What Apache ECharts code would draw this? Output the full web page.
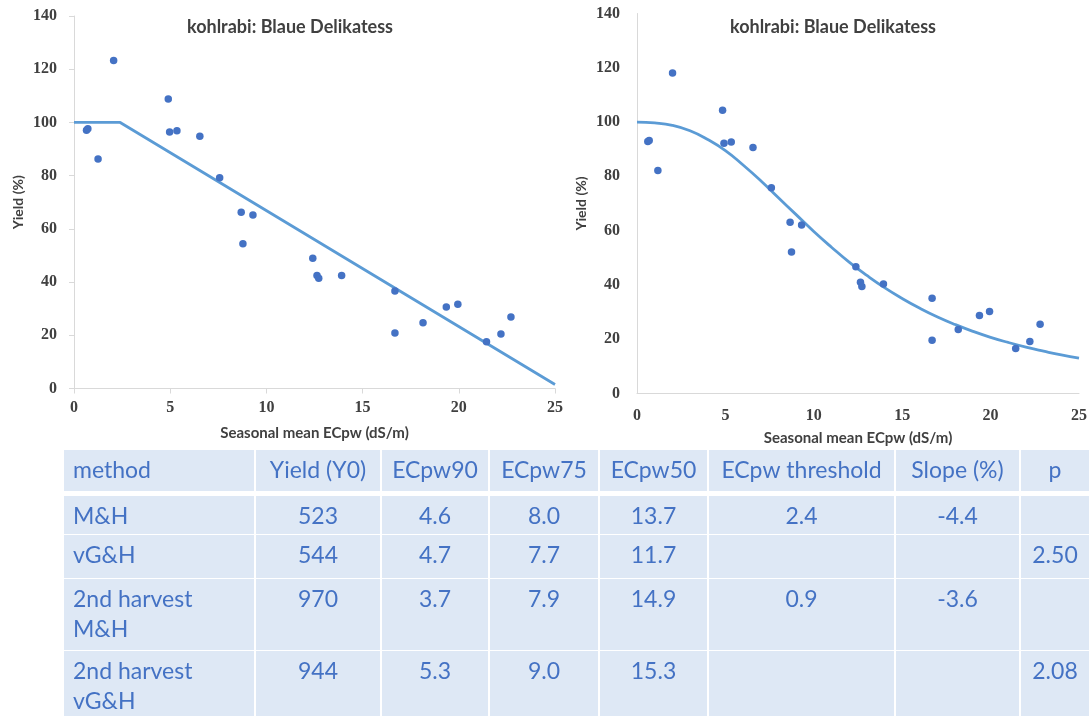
<!DOCTYPE html>
<html>
<head>
<meta charset="utf-8">
<script src="https://cdn.jsdelivr.net/npm/echarts@6/dist/echarts.min.js"></script>
<style>
html,body{margin:0;padding:0;background:#fff;}
#chart{width:1090px;height:716px;}
</style>
</head>
<body>
<div id="chart"></div>
<script>
// ---------- data ----------
const chartTitle = 'kohlrabi: Blaue Delikatess';
const xAxisName = 'Seasonal mean ECpw (dS/m)';
const yAxisName = 'Yield (%)';

// left chart: observed points (M&H)
const mhX = [0.65, 0.72, 1.25, 2.06, 4.90, 4.97, 5.35, 6.54, 7.57, 8.69, 8.78, 9.30, 12.41, 12.63, 12.72, 13.91, 16.68, 16.68, 18.14, 19.35, 19.95, 21.44, 22.19, 22.71];
const mhY = [97.1, 97.6, 86.3, 123.3, 108.8, 96.4, 96.9, 94.8, 79.2, 66.2, 54.4, 65.2, 49.0, 42.5, 41.4, 42.5, 36.6, 20.9, 24.7, 30.6, 31.7, 17.6, 20.5, 26.9];
// left chart: fitted piecewise line
const mhLineX = [0, 2.4, 25];
const mhLineY = [100, 100, 1.5];

// right chart: observed points (vG&H)
const vgX = [0.61, 0.69, 1.18, 2.01, 4.84, 4.92, 5.33, 6.56, 7.60, 8.66, 8.74, 9.31, 12.38, 12.64, 12.72, 13.94, 16.69, 16.69, 18.17, 19.37, 19.94, 21.42, 22.22, 22.80];
const vgY = [92.8, 93.2, 82.2, 118.1, 104.4, 92.2, 92.7, 90.6, 75.8, 63.1, 52.1, 62.1, 46.7, 41.0, 39.4, 40.3, 35.1, 19.6, 23.6, 28.7, 30.2, 16.6, 19.2, 25.5];
// right chart: fitted curve
const vgCurveX = [0, 1, 2, 3, 4, 5, 6, 7, 8, 9, 10, 11, 12, 13, 14, 15, 16, 17, 18, 19, 20, 21, 22, 23, 24, 25];
const vgCurveY = [100, 99.7, 98.8, 96.8, 93.6, 89.5, 84.2, 78.4, 72.1, 65.9, 59.7, 53.9, 48.4, 43.5, 39.0, 35.0, 31.4, 28.2, 25.4, 22.9, 20.7, 18.8, 17.1, 15.6, 14.2, 13.0];

const xTicks = [0, 5, 10, 15, 20, 25];
const yTicks = [0, 20, 40, 60, 80, 100, 120, 140];

// table
const tableHeader = ['method', 'Yield (Y0)', 'ECpw90', 'ECpw75', 'ECpw50', 'ECpw threshold', 'Slope (%)', 'p'];
const colMethod = ['M&H', 'vG&H', '2nd harvest\nM&H', '2nd harvest\nvG&H'];
const colY0 = ['523', '544', '970', '944'];
const colEC90 = ['4.6', '4.7', '3.7', '5.3'];
const colEC75 = ['8.0', '7.7', '7.9', '9.0'];
const colEC50 = ['13.7', '11.7', '14.9', '15.3'];
const colThreshold = ['2.4', '', '0.9', ''];
const colSlope = ['-4.4', '', '-3.6', ''];
const colP = ['', '2.50', '', '2.08'];

// ---------- layout / style ----------
const zip = (a, b) => a.map((v, i) => [v, b[i]]);
const tickColor = '#404040';
const axisGray = '#D9D9D9';
const pointColor = '#4472C4';
const lineColor = '#5B9BD5';
const serifFont = '"Liberation Serif", serif';
const sansFont = 'Lato, "Open Sans", sans-serif';

const grids = [
  {left: 74, top: 16, width: 481, height: 372.5},
  {left: 637, top: 13.5, width: 442, height: 380}
];

function xAxisCfg(idx, withTicks, margin) {
  return {
    type: 'value', gridIndex: idx, min: xTicks[0], max: xTicks[xTicks.length - 1], interval: 5,
    name: xAxisName, nameLocation: 'middle', nameGap: 37,
    nameTextStyle: {color: tickColor, fontFamily: sansFont, fontWeight: 'bold', fontSize: 15},
    axisLine: {show: true, lineStyle: {color: axisGray, width: 1}},
    axisTick: {show: withTicks, length: 5, lineStyle: {color: axisGray}},
    splitLine: {show: false},
    axisLabel: {color: tickColor, fontFamily: serifFont, fontWeight: 'bold', fontSize: 16, margin: margin}
  };
}
function yAxisCfg(idx, withTicks) {
  return {
    type: 'value', gridIndex: idx, min: yTicks[0], max: yTicks[yTicks.length - 1], interval: 20,
    name: yAxisName, nameLocation: 'middle', nameGap: 49, nameRotate: 90,
    nameTextStyle: {color: tickColor, fontFamily: sansFont, fontWeight: 'bold', fontSize: 14},
    axisLine: {show: true, lineStyle: {color: axisGray, width: 1}},
    axisTick: {show: withTicks, length: 5, lineStyle: {color: axisGray}},
    splitLine: {show: false},
    axisLabel: {color: tickColor, fontFamily: serifFont, fontWeight: 'bold', fontSize: 16, margin: 17}
  };
}

// table geometry
const colEdges = [63, 255, 381, 489, 599, 708, 895, 1020, 1090];
const headerBox = [450, 492];
const rowEdges = [496, 535, 579, 651, 716];
const cellFill = '#DEE8F5';
const tableText = '#4472C4';
const tableFont = 'Lato, "Open Sans", sans-serif';
const tableFontSize = 23;

const graphics = [];
// titles
[[290, 27], [833, 27]].forEach(p => {
  graphics.push({type: 'text', x: p[0], y: p[1], style: {
    text: chartTitle, fill: tickColor, font: 'bold 18px ' + sansFont,
    textAlign: 'center', textVerticalAlign: 'middle'}});
});

const columns = [colMethod, colY0, colEC90, colEC75, colEC50, colThreshold, colSlope, colP];
function addRow(top, bottom, texts) {
  for (let c = 0; c < colEdges.length - 1; c++) {
    const x0 = colEdges[c], x1 = colEdges[c + 1];
    graphics.push({type: 'rect', shape: {x: x0 + 1, y: top, width: x1 - x0 - 2, height: bottom - top - 1},
      style: {fill: cellFill}, silent: true});
    const t = texts[c];
    if (t) {
      const left = c === 0;
      graphics.push({type: 'text', x: left ? x0 + 10 : (x0 + x1) / 2, y: top + 6, style: {
        text: t, fill: tableText, font: tableFontSize + 'px ' + tableFont,
        textAlign: left ? 'left' : 'center', textVerticalAlign: 'top', lineHeight: 30}});
    }
  }
}
addRow(headerBox[0], headerBox[1], tableHeader);
for (let r = 0; r < colMethod.length; r++) {
  addRow(rowEdges[r], rowEdges[r + 1] + (r === colMethod.length - 1 ? 1 : 0), columns.map(col => col[r]));
}

const option = {
  animation: false,
  backgroundColor: '#ffffff',
  grid: grids,
  xAxis: [xAxisCfg(0, true, 11), xAxisCfg(1, false, 14)],
  yAxis: [yAxisCfg(0, true), yAxisCfg(1, false)],
  series: [
    {type: 'line', xAxisIndex: 0, yAxisIndex: 0, data: zip(mhLineX, mhLineY), showSymbol: false,
      lineStyle: {color: lineColor, width: 2.8}, z: 2},
    {type: 'scatter', xAxisIndex: 0, yAxisIndex: 0, data: zip(mhX, mhY), symbolSize: 7.5,
      itemStyle: {color: pointColor, opacity: 1}, z: 3},
    {type: 'line', xAxisIndex: 1, yAxisIndex: 1, data: zip(vgCurveX, vgCurveY), showSymbol: false, smooth: true,
      lineStyle: {color: lineColor, width: 2.8}, z: 2},
    {type: 'scatter', xAxisIndex: 1, yAxisIndex: 1, data: zip(vgX, vgY), symbolSize: 7.5,
      itemStyle: {color: pointColor, opacity: 1}, z: 3}
  ],
  graphic: graphics
};

const chart = echarts.init(document.getElementById('chart'), null, {renderer: 'canvas'});
chart.setOption(option);
</script>
</body>
</html>
